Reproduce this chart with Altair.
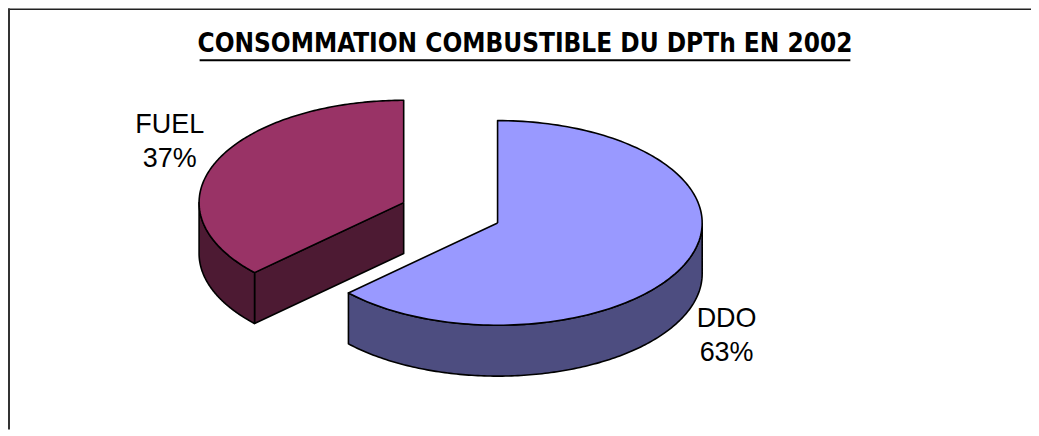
import numpy as np
import pandas as pd
import altair as alt

# ---- data ----
categories = ["DDO", "FUEL"]
values = [63, 37]
pct_labels = ["63%", "37%"]
top_colors = ["#9999FF", "#993366"]
side_colors = ["#4D4D80", "#4D1A33"]
title_text = "CONSOMMATION COMBUSTIBLE DU DPTh EN 2002"

# ---- layout ----
W, H = 1025, 422          # view size (page offset 8px)
OX, OY = 8, 8
RX, RY, DEPTH = 205, 102.5, 51
CX, CY = 451.5 - OX, 212.75 - OY
EXPLODE = 0.25
N = 160

xs = alt.Scale(domain=[0, W], nice=False, zero=False)
ys = alt.Scale(domain=[0, H], nice=False, zero=False, reverse=True)


def arc(cx, cy, a0, a1, dz=0.0):
    t = np.radians(np.linspace(a0, a1, N))
    return list(cx + RX * np.sin(t)), list(cy - RY * np.cos(t) + dz)


def poly_layer(px, py, color):
    px = list(px) + [px[0]]
    py = list(py) + [py[0]]
    df = pd.DataFrame({"x": px, "y": py, "i": range(len(px))})
    return alt.Chart(df).mark_line(
        filled=True, fill=color, stroke="black", strokeWidth=1.6,
        strokeJoin="round", interpolate="linear"
    ).encode(
        x=alt.X("x:Q", scale=xs, axis=None),
        y=alt.Y("y:Q", scale=ys, axis=None),
        order="i:Q",
    )


total = float(sum(values))
slices = []
start = 0.0
for cat, v, tc, sc in zip(categories, values, top_colors, side_colors):
    a0 = start
    a1 = start + 360.0 * v / total
    start = a1
    m = np.radians((a0 + a1) / 2)
    cx = CX + EXPLODE * RX * np.sin(m)
    cy = CY - EXPLODE * RY * np.cos(m)
    slices.append((cy, cx, a0, a1, tc, sc))

layers = []
for cy, cx, a0, a1, tc, sc in sorted(slices, key=lambda s: s[0]):
    # radial cut faces
    for a, vis in ((a0, np.sin(np.radians(a0)) < -1e-6), (a1, np.sin(np.radians(a1)) > 1e-6)):
        if vis:
            ex = cx + RX * np.sin(np.radians(a))
            ey = cy - RY * np.cos(np.radians(a))
            layers.append(poly_layer([cx, ex, ex, cx], [cy, ey, ey + DEPTH, cy + DEPTH], sc))
    # outer wall (front half only)
    s0, s1 = max(a0, 90.0), min(a1, 270.0)
    if s0 < s1:
        tx, ty = arc(cx, cy, s0, s1)
        bx, by = arc(cx, cy, s1, s0, DEPTH)
        layers.append(poly_layer(tx + bx, ty + by, sc))
    # top face
    tx, ty = arc(cx, cy, a0, a1)
    layers.append(poly_layer([cx] + tx, [cy] + ty, tc))

# ---- labels ----
label_pos = {"DDO": (728, 327, 361), "FUEL": (170, 133, 167)}
for cat, pct in zip(categories, pct_labels):
    lx, y1, y2 = label_pos[cat]
    for txt, yy in ((cat, y1), (pct, y2)):
        layers.append(
            alt.Chart(pd.DataFrame({"t": [txt]})).mark_text(
                font="Liberation Sans", fontSize=27, align="center",
                baseline="alphabetic", color="black"
            ).encode(text="t:N", x=alt.value(lx - OX), y=alt.value(yy - OY))
        )

# ---- title ----
layers.append(
    alt.Chart(pd.DataFrame({"t": [title_text]})).mark_text(
        font="DejaVu Sans Condensed, Roboto, sans-serif", fontWeight="bold", fontSize=26,
        align="center", baseline="alphabetic", color="black"
    ).encode(text="t:N", x=alt.value(526 - OX), y=alt.value(52 - OY))
)
layers.append(
    alt.Chart(pd.DataFrame({"a": [0]})).mark_rule(color="black", strokeWidth=2).encode(
        x=alt.value(200 - OX), x2=alt.value(852 - OX), y=alt.value(60 - OY)
    )
)

# ---- frame (top and left borders) ----
layers.append(
    alt.Chart(pd.DataFrame({"a": [0]})).mark_rule(color="#222222", strokeWidth=1.5).encode(
        x=alt.value(0), x2=alt.value(W), y=alt.value(0.75)
    )
)
layers.append(
    alt.Chart(pd.DataFrame({"a": [0]})).mark_rule(color="#333333", strokeWidth=2).encode(
        x=alt.value(1), y=alt.value(0), y2=alt.value(H)
    )
)

chart = alt.layer(*layers).properties(
    width=W, height=H, padding=0, autosize=alt.AutoSizeParams(type="none")
).configure_view(stroke=None)

chart.save("out.html", embed_options={"renderer": "svg", "actions": False})
